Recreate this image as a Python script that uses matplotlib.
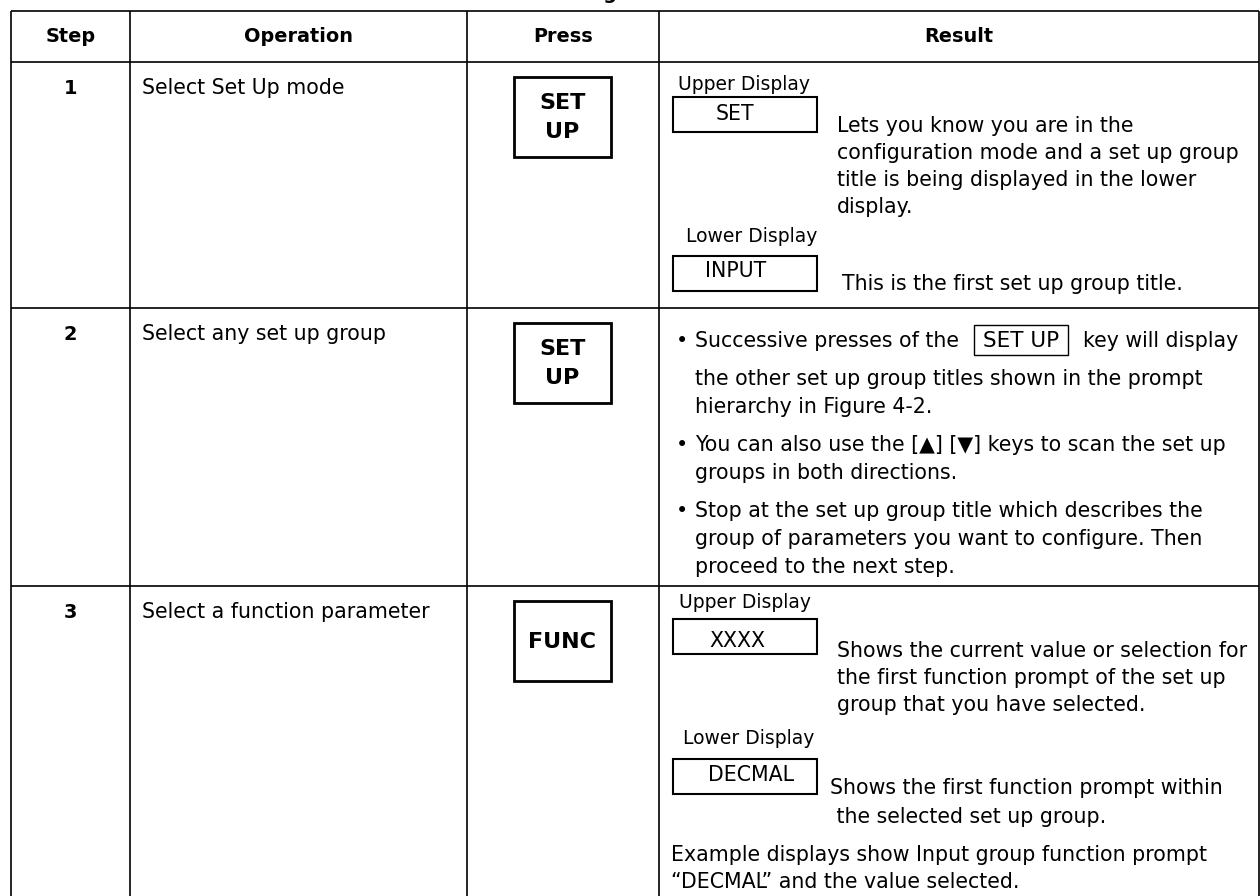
import matplotlib
matplotlib.use("Agg")
import matplotlib.pyplot as plt
from matplotlib.patches import Rectangle

# ---- table content ----
title = "Configuration Procedure"
headers = ["Step", "Operation", "Press", "Result"]
steps = ["1", "2", "3"]
operations = ["Select Set Up mode", "Select any set up group", "Select a function parameter"]
press_keys = [["SET", "UP"], ["SET", "UP"], ["FUNC"]]

display_labels = ["Upper Display", "Lower Display"]
step1_values = ["SET", "INPUT"]
step1_notes = [
    ["Lets you know you are in the",
     "configuration mode and a set up group",
     "title is being displayed in the lower",
     "display."],
    ["This is the first set up group title."],
]
step2_key = "SET UP"
step2_bullets = [
    ["Successive presses of the", "key will display",
     "the other set up group titles shown in the prompt",
     "hierarchy in Figure 4-2."],
    ["You can also use the [\u25B2] [\u25BC] keys to scan the set up",
     "groups in both directions."],
    ["Stop at the set up group title which describes the",
     "group of parameters you want to configure. Then",
     "proceed to the next step."],
]
step3_values = ["XXXX", "DECMAL"]
step3_notes = [
    ["Shows the current value or selection for",
     "the first function prompt of the set up",
     "group that you have selected."],
    ["Shows the first function prompt within",
     " the selected set up group."],
]
step3_footer = ["Example displays show Input group function prompt",
                "\u201cDECMAL\u201d and the value selected."]

# ---- layout (pixels, origin top-left) ----
W, H = 1260, 896
col_x = [10.7, 130, 467, 659, 1259]
row_y = [11, 62, 308, 586, 905]

BODY = 14.8
SMALL = 13.5
HEAD = 13.9
KEY = 16

fig = plt.figure(figsize=(W / 100, H / 100), dpi=100)
ax = fig.add_axes([0, 0, 1, 1])
ax.set_xlim(0, W)
ax.set_ylim(H, 0)
ax.set_axis_off()

# grid lines
for y in row_y[:-1]:
    ax.plot([col_x[0], col_x[-1]], [y, y], color="black", lw=1.2, solid_capstyle="butt")
for x in col_x:
    ax.plot([x, x], [row_y[0], row_y[-1]], color="black", lw=1.2, solid_capstyle="butt")

# partly cut title above the table (as in the source page)
ax.text(547, -1, title, fontsize=HEAD, fontweight="bold", ha="left", va="baseline")

# header
for i, h in enumerate(headers):
    cx = (col_x[i] + col_x[i + 1]) / 2
    ax.text(cx, 37, h, fontsize=HEAD, fontweight="bold", ha="center", va="center")

# step, operation and key columns
key_cx = (514 + 611) / 2
for r in range(3):
    top = row_y[r + 1]
    ax.text((col_x[0] + col_x[1]) / 2, top + 26, steps[r], fontsize=HEAD,
            fontweight="bold", ha="center", va="center")
    ax.text(142, top + 26, operations[r], fontsize=BODY, ha="left", va="center")
    ax.add_patch(Rectangle((514, top + 15), 97, 80, fill=False, ec="black", lw=2))
    keys = press_keys[r]
    if len(keys) == 2:
        ax.text(key_cx, top + 41, keys[0], fontsize=KEY, fontweight="bold", ha="center", va="center")
        ax.text(key_cx, top + 70, keys[1], fontsize=KEY, fontweight="bold", ha="center", va="center")
    else:
        ax.text(key_cx, top + 56, keys[0], fontsize=KEY, fontweight="bold", ha="center", va="center")


def display(label, value, label_x, label_y, box_top, value_x, value_y):
    ax.text(label_x, label_y, label, fontsize=SMALL, ha="left", va="center")
    ax.add_patch(Rectangle((673, box_top), 144, 35, fill=False, ec="black", lw=1.5))
    ax.text(value_x, value_y, value, fontsize=BODY, ha="center", va="center")


def lines(texts, x, y0, step=27):
    for i, t in enumerate(texts):
        ax.text(x, y0 + i * step, t, fontsize=BODY, ha="left", va="center")


# step 1 result
display(display_labels[0], step1_values[0], 678, 84, 97, 735, 114)
lines(step1_notes[0], 837, 126)
display(display_labels[1], step1_values[1], 686, 236, 256, 736, 271)
lines(step1_notes[1], 842, 284)

# step 2 result: bullets
renderer = fig.canvas.get_renderer()
inv = ax.transData.inverted()
bullet_y = [[341, 379, 407], [445, 473], [511, 539, 567]]
for p, para in enumerate(step2_bullets):
    ys = bullet_y[p]
    ax.text(682, ys[0], "\u2022", fontsize=BODY, ha="center", va="center")
    if p == 0:
        t1 = ax.text(695, ys[0], para[0], fontsize=BODY, ha="left", va="center")
        x1 = inv.transform(t1.get_window_extent(renderer).get_points())[1][0]
        tk = ax.text(x1 + 24, ys[0], step2_key, fontsize=15.5, ha="left", va="center")
        kb = inv.transform(tk.get_window_extent(renderer).get_points())
        kx0, kx1 = kb[0][0], kb[1][0]
        ax.add_patch(Rectangle((kx0 - 9, ys[0] - 16), kx1 - kx0 + 18, 30,
                               fill=False, ec="black", lw=1))
        ax.text(kx1 + 24, ys[0], para[1], fontsize=BODY, ha="left", va="center")
        rest = para[2:]
    else:
        ax.text(695, ys[0], para[0], fontsize=BODY, ha="left", va="center")
        rest = para[1:]
    for t, y in zip(rest, ys[1:]):
        ax.text(695, y, t, fontsize=BODY, ha="left", va="center")

# step 3 result
display(display_labels[0], step3_values[0], 679, 602, 619, 737, 641)
lines(step3_notes[0], 837, 651)
display(display_labels[1], step3_values[1], 683, 739, 759, 751, 775)
lines(step3_notes[1], 830, 788, step=29)
lines(step3_footer, 671, 855)

fig.savefig("out.png", dpi=100)
